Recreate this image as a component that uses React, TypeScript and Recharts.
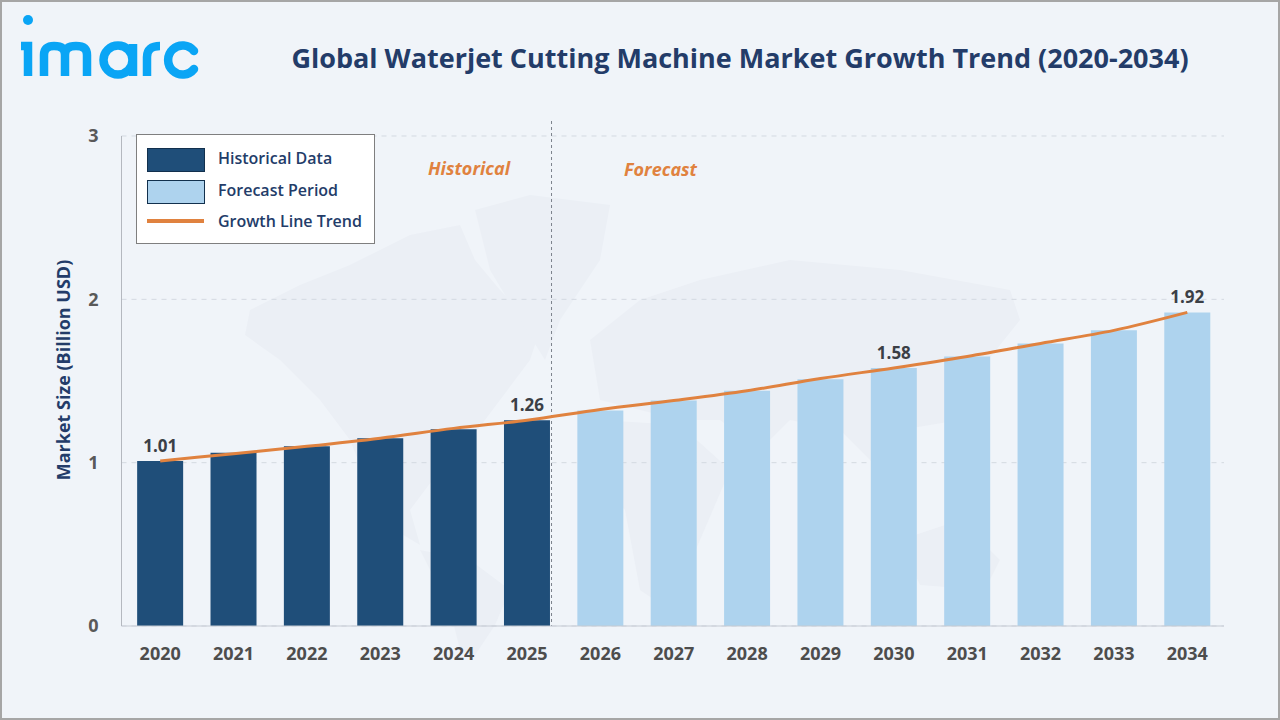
import React from "react";
import {
  ComposedChart,
  Bar,
  Line,
  XAxis,
  YAxis,
  CartesianGrid,
  LabelList,
  ReferenceLine,
} from "recharts";

const years = ["2020", "2021", "2022", "2023", "2024", "2025", "2026", "2027", "2028", "2029", "2030", "2031", "2032", "2033", "2034"];
const historical = [1.01, 1.06, 1.1, 1.15, 1.205, 1.26, null, null, null, null, null, null, null, null, null];
const forecast = [null, null, null, null, null, null, 1.32, 1.38, 1.44, 1.51, 1.58, 1.65, 1.73, 1.81, 1.92];
const trend = [1.01, 1.055, 1.1, 1.15, 1.21, 1.26, 1.325, 1.38, 1.44, 1.515, 1.58, 1.65, 1.73, 1.81, 1.92];
const pointLabels = ["1.01", "", "", "", "", "1.26", "", "", "", "", "1.58", "", "", "", "1.92"];
const yTicks = [0, 1, 2, 3];

const chartData = years.map((year, i) => ({
  year,
  historical: historical[i],
  forecast: forecast[i],
  trend: trend[i],
  label: pointLabels[i],
}));

const FONT = "'Open Sans', sans-serif";
const NAVY = "#233c69";
const DARK_BAR = "#1f4e79";
const LIGHT_BAR = "#aed3ee";
const ORANGE = "#e0823f";

// faint map behind the plot, only decoration
const WorldMap = () => (
  <svg width={1280} height={720} style={{ position: "absolute", left: 0, top: 0 }}>
    <g fill="#ebeff5">
      <path d="M245 335 L250 310 L300 285 L350 265 L410 235 L460 225 L475 260 L500 290 L540 330 L530 360 L500 400 L470 440 L440 470 L410 510 L420 545 L395 530 L370 490 L350 440 L320 400 L280 360 Z" />
      <path d="M475 210 L530 195 L610 205 L600 260 L560 320 L545 360 L520 320 L490 270 Z" />
      <path d="M420 550 L470 560 L510 590 L495 625 L475 655 L460 650 L450 610 Z" />
      <path d="M590 340 L640 300 L700 280 L790 260 L900 270 L1010 290 L1020 320 L980 370 L960 420 L900 430 L880 470 L840 430 L790 420 L760 450 L720 420 L680 420 L640 410 L600 400 Z" />
      <path d="M600 420 L680 425 L730 470 L700 540 L670 610 L640 590 L625 510 L590 470 Z" />
      <path d="M900 540 L960 520 L1000 560 L985 590 L920 585 Z" />
    </g>
  </svg>
);

const Logo = () => (
  <svg width={200} height={80} style={{ position: "absolute", left: 0, top: 0 }}>
    <g fill="none" stroke="#0aa5f5" strokeWidth={8.5}>
      <circle cx={28} cy={20} r={5} fill="#0aa5f5" stroke="none" />
      <path d="M21 46 H28 V76" />
      <path d="M44 76 V55 Q44 46 54 46 Q65 46 65 55 V76 M65 55 Q65 46 76 46 Q87 46 87 55 V76" />
      <circle cx={118} cy={60} r={14.5} />
      <path d="M133 44 V76" />
      <path d="M147 76 V57 Q147 46 160 46" />
      <path d="M194 51 A14.5 14.5 0 1 0 194 69" strokeLinecap="round" />
    </g>
  </svg>
);

const legendText: React.CSSProperties = {
  position: "absolute",
  left: 81,
  fontSize: 16,
  fontWeight: 600,
  color: NAVY,
  lineHeight: "20px",
  whiteSpace: "nowrap",
};

const ChartLegend = () => (
  <div
    style={{
      position: "absolute",
      left: 136,
      top: 134,
      width: 239,
      height: 110,
      boxSizing: "border-box",
      background: "#fff",
      border: "1px solid #7f7f7f",
    }}
  >
    <div style={{ position: "absolute", left: 10, top: 13, width: 56, height: 22, background: DARK_BAR, border: "1px solid #12304d" }} />
    <div style={{ ...legendText, top: 13 }}>Historical Data</div>
    <div style={{ position: "absolute", left: 10, top: 45, width: 56, height: 22, background: LIGHT_BAR, border: "1px solid #12304d" }} />
    <div style={{ ...legendText, top: 45 }}>Forecast Period</div>
    <div style={{ position: "absolute", left: 10, top: 84, width: 57, height: 4, background: ORANGE }} />
    <div style={{ ...legendText, top: 76 }}>Growth Line Trend</div>
  </div>
);

const periodText: React.CSSProperties = {
  position: "absolute",
  fontSize: 18,
  fontWeight: 700,
  fontStyle: "italic",
  color: ORANGE,
  lineHeight: "24px",
};

// divider sits on the right edge of the 2025 bar and runs a little above the plot
const Divider = (props: any) => (
  <line
    x1={props.x1 + 24.5}
    x2={props.x2 + 24.5}
    y1={Math.min(props.y1, props.y2) - 15}
    y2={Math.max(props.y1, props.y2)}
    stroke="#7c838d"
    strokeDasharray="3 3"
  />
);

const App = () => {
  return (
    <div
      style={{
        position: "fixed",
        left: 0,
        top: 0,
        width: 1280,
        height: 720,
        boxSizing: "border-box",
        background: "#f0f4f9",
        border: "2px solid #a6a6a6",
        fontFamily: FONT,
        overflow: "hidden",
      }}
    >
      <div style={{ position: "absolute", left: -2, top: -2, width: 1280, height: 720 }}>
        <WorldMap />
        <Logo />
        <div
          style={{
            position: "absolute",
            left: 200,
            width: 1080,
            top: 38,
            textAlign: "center",
            fontSize: 27,
            fontWeight: 700,
            color: NAVY,
            lineHeight: "40px",
            whiteSpace: "nowrap",
          }}
        >
          Global Waterjet Cutting Machine Market Growth Trend (2020-2034)
        </div>
        <ComposedChart
          width={1280}
          height={720}
          data={chartData}
          margin={{ top: 136, right: 56, bottom: 64, left: 0 }}
          barCategoryGap="18.6%"
          style={{ position: "absolute", left: 0, top: 0 }}
        >
          <CartesianGrid horizontal vertical={false} stroke="#d3d9e1" strokeDasharray="5 5" />
          <XAxis
            dataKey="year"
            height={30}
            padding={{ left: 2, right: 0 }}
            tickLine={false}
            axisLine={{ stroke: "#c5cad3" }}
            tick={{ fill: "#4d4d4d", fontSize: 18, fontWeight: 700, fontFamily: FONT }}
            tickMargin={15}
            interval={0}
          />
          <YAxis
            width={121.5}
            domain={[0, 3]}
            ticks={yTicks}
            tickLine={false}
            axisLine={{ stroke: "#b4b8bf" }}
            tick={{ fill: "#595959", fontSize: 18, fontWeight: 700, fontFamily: FONT }}
            tickMargin={17}
            label={{
              value: "Market Size (Billion USD)",
              angle: -90,
              position: "center",
              dx: 3,
              dy: -11,
              fill: NAVY,
              fontSize: 18,
              fontWeight: 700,
              fontFamily: FONT,
            }}
          />
          <Bar dataKey="historical" stackId="a" fill={DARK_BAR} isAnimationActive={false} />
          <Bar dataKey="forecast" stackId="a" fill={LIGHT_BAR} isAnimationActive={false} />
          <ReferenceLine x="2025" shape={Divider} />
          <Line
            dataKey="trend"
            type="monotone"
            stroke={ORANGE}
            strokeWidth={3}
            dot={false}
            isAnimationActive={false}
          >
            <LabelList
              dataKey="label"
              position="top"
              offset={9}
              fill="#3b3f46"
              fontSize={17}
              fontWeight={700}
              fontFamily={FONT}
            />
          </Line>
        </ComposedChart>
        <ChartLegend />
        <div style={{ ...periodText, left: 428, top: 156 }}>Historical</div>
        <div style={{ ...periodText, left: 624, top: 157 }}>Forecast</div>
      </div>
    </div>
  );
};

export default App;
